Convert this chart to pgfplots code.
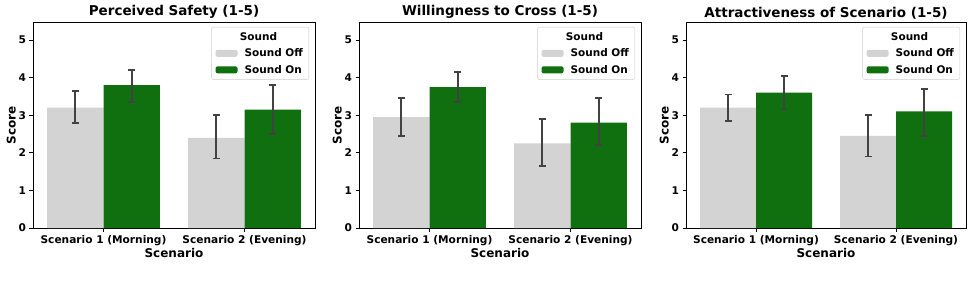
\documentclass[border=0pt]{standalone}
\usepackage{fontspec}
\setmainfont{DejaVu Sans}
\usepackage{pgfplots}
\pgfplotsset{compat=1.18}
\definecolor{offc}{HTML}{D3D3D3}
\definecolor{onc}{HTML}{107010}
\definecolor{errc}{HTML}{424242}
\pgfplotsset{
 every axis title/.style={at={(0.5,1)}, anchor=south, yshift=2pt, inner sep=1pt,
   font=\fontsize{13.5}{16}\selectfont\bfseries},
 myaxis/.style={
  scale only axis, width=282pt, height=206pt,
  xmin=-0.5, xmax=1.5, ymin=0, ymax=5.48,
  xtick={0,1}, xticklabels={Scenario 1 (Morning), Scenario 2 (Evening)},
  ytick={0,1,2,3,4,5},
  tick align=outside, xtick pos=bottom, ytick pos=left,
  major tick length=3.5pt,
  tick style={black, line width=0.8pt},
  axis line style={line width=1pt},
  /pgf/number format/assume math mode=true,
  tick label style={font=\fontsize{10.6}{12}\selectfont\bfseries},
  label style={font=\fontsize{12}{14}\selectfont\bfseries},
  xlabel style={yshift=4pt},
  ylabel style={yshift=-4pt},
  xlabel=Scenario, ylabel=Score,
  legend cell align=left,
  legend style={at={(rel axis cs:0.979,0.976)}, anchor=north east,
    draw=black!20, rounded corners=2pt, fill=white,
    font=\fontsize{10.5}{12.6}\selectfont\bfseries, row sep=3pt, column sep=5pt,
    inner xsep=4pt, inner ysep=3pt},
 },
 errsty/.style={error bars/.cd, y dir=both, y explicit,
   error bar style={errc, line width=1.8pt},
   error mark options={errc, rotate=90, mark size=3.5pt, line width=1.8pt}},
 offbar/.style={ybar, bar width=0.4, bar shift=0pt, fill=offc, draw=none,
   legend image code/.code={\fill[offc] (0pt,-3.5pt) rectangle (22pt,3.5pt);}, errsty},
 onbar/.style={ybar, bar width=0.4, bar shift=0pt, fill=onc, draw=none,
   legend image code/.code={\fill[onc] (0pt,-3.5pt) rectangle (22pt,3.5pt);}, errsty},
}
\newcommand{\legtitle}{\addlegendimage{empty legend}\addlegendentry{\hspace{-15.5pt}\makebox[59pt][c]{Sound}}}
\begin{document}
\begin{tikzpicture}
\path[use as bounding box] (0,0) rectangle (974pt,293pt);
% Panel 1
\begin{axis}[myaxis, at={(33pt,65pt)}, anchor=south west, title={Perceived Safety (1-5)}]
\legtitle
\addplot[offbar] table[x=x,y=y,y error plus=ep,y error minus=em]{
x y ep em
-0.2 3.20 0.45 0.40
0.8 2.40 0.60 0.55
};
\addlegendentry{Sound Off}
\addplot[onbar] table[x=x,y=y,y error plus=ep,y error minus=em]{
x y ep em
0.2 3.80 0.40 0.45
1.2 3.15 0.65 0.65
};
\addlegendentry{Sound On}
\end{axis}
% Panel 2
\begin{axis}[myaxis, at={(359pt,65pt)}, anchor=south west, title={Willingness to Cross (1-5)}]
\legtitle
\addplot[offbar] table[x=x,y=y,y error plus=ep,y error minus=em]{
x y ep em
-0.2 2.95 0.50 0.50
0.8 2.25 0.65 0.60
};
\addlegendentry{Sound Off}
\addplot[onbar] table[x=x,y=y,y error plus=ep,y error minus=em]{
x y ep em
0.2 3.75 0.40 0.40
1.2 2.80 0.65 0.60
};
\addlegendentry{Sound On}
\end{axis}
% Panel 3
\begin{axis}[myaxis, width=280pt, at={(686pt,65pt)}, anchor=south west, title={Attractiveness of Scenario (1-5)}]
\legtitle
\addplot[offbar] table[x=x,y=y,y error plus=ep,y error minus=em]{
x y ep em
-0.2 3.20 0.35 0.35
0.8 2.45 0.55 0.55
};
\addlegendentry{Sound Off}
\addplot[onbar] table[x=x,y=y,y error plus=ep,y error minus=em]{
x y ep em
0.2 3.60 0.45 0.45
1.2 3.10 0.60 0.65
};
\addlegendentry{Sound On}
\end{axis}
\end{tikzpicture}
\end{document}
